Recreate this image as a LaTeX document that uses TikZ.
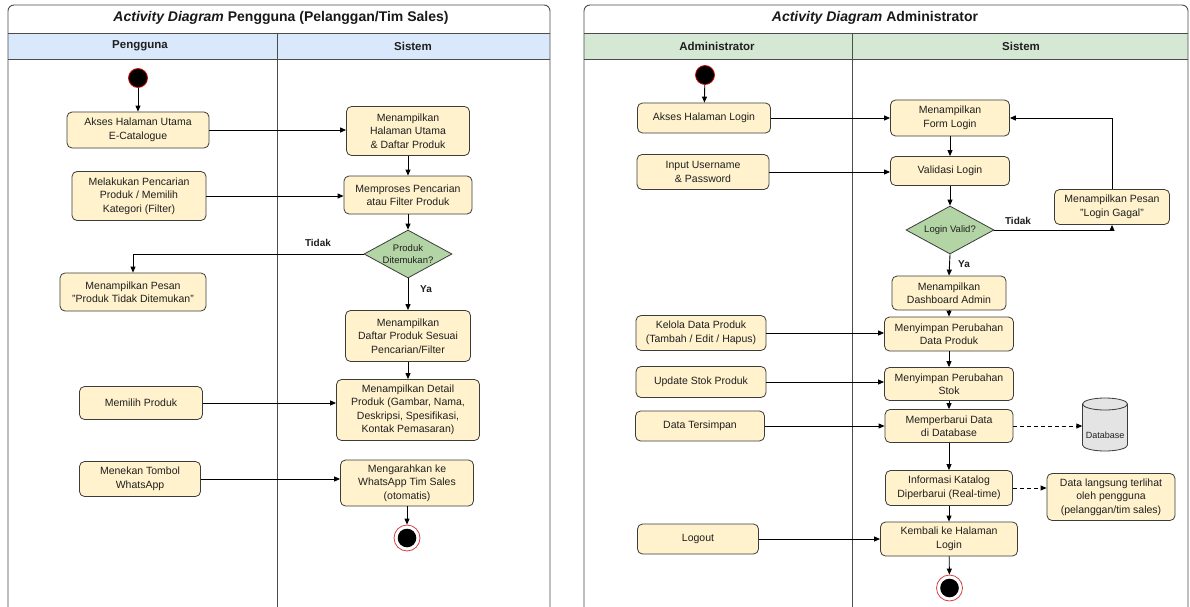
\documentclass[tikz,border=0pt]{standalone}
\usepackage{fontspec}
\setmainfont{Liberation Sans}
\usetikzlibrary{shapes.geometric,arrows.meta}
\definecolor{boxfill}{HTML}{FFF2CC}
\definecolor{boxdraw}{HTML}{3C3C3C}
\definecolor{dfill}{HTML}{B3D4A4}
\definecolor{hblue}{HTML}{DAE8FC}
\definecolor{hgreen}{HTML}{D5E8D4}
\definecolor{startred}{HTML}{CC1010}
\definecolor{ringred}{HTML}{D84040}
\definecolor{dbfill}{HTML}{E4E4E4}
\begin{document}
\begin{tikzpicture}[x=1pt,y=-1pt,
  act/.style={draw=boxdraw, fill=boxfill, rounded corners=5pt, line width=0.8pt,
    align=center, inner sep=0pt, font=\fontsize{10.5}{13.5}\selectfont, text=black!88},
  dec/.style={diamond, draw=boxdraw, fill=dfill, line width=0.8pt, inner sep=0pt},
  dtext/.style={align=center, inner sep=0pt, font=\fontsize{9.5}{12}\selectfont, text=black!88},
  flow/.style={-{Triangle[length=6pt,width=5pt]}, line width=0.9pt, black},
  dflow/.style={-{Triangle[length=6pt,width=5pt]}, line width=0.9pt, black, dash pattern=on 4pt off 3pt},
  startnode/.style={circle, fill=black, draw=startred, line width=0.8pt, minimum size=19pt, inner sep=0pt},
  endring/.style={circle, draw=ringred, line width=0.8pt, minimum size=26pt, inner sep=0pt, fill=white},
  panel/.style={draw=black!70, line width=0.9pt},
  ttl/.style={font=\fontsize{14}{16}\selectfont\bfseries, text=black!90},
  head/.style={font=\fontsize{11.5}{14}\selectfont\bfseries, text=black!88},
  lbl/.style={font=\fontsize{10}{12}\selectfont\bfseries, text=black!88, inner sep=0pt}
]
\useasboundingbox (0,0) rectangle (1190,607);
\clip (0,0) rectangle (1190,607);
\fill[white] (0,0) rectangle (1190,607);

% ---------------- Left panel frame ----------------
\fill[hblue] (8,33) rectangle (550,59);
\draw[panel] (8,33) -- (550,33);
\draw[panel] (8,59) -- (550,59);
\draw[panel] (277,33) -- (277,615);
\draw[panel, rounded corners=6pt] (8,615) -- (8,5) -- (550,5) -- (550,615);
\node[ttl] (ltitle) at (281,18) {\textit{Activity Diagram} Pengguna (Pelanggan/Tim Sales)};
\node[head] (lh1) at (140,46) {Pengguna};
\node[head] (lh2) at (413,46) {Sistem};

% ---------------- Right panel frame ----------------
\fill[hgreen] (584,33) rectangle (1188,59);
\draw[panel] (584,33) -- (1188,33);
\draw[panel] (584,59) -- (1188,59);
\draw[panel] (852,33) -- (852,615);
\draw[panel, rounded corners=6pt] (584,615) -- (584,5) -- (1188,5) -- (1188,615);
\node[ttl] (rtitle) at (875,18) {\textit{Activity Diagram} Administrator};
\node[head] (rh1) at (717,46) {Administrator};
\node[head] (rh2) at (1021,46) {Sistem};

% ---------------- Left nodes ----------------
\node[startnode] (lstart) at (138,78) {};
\node[act, minimum width=142, minimum height=36] (a1) at (138,130) {Akses Halaman Utama\\E-Catalogue};
\node[act, minimum width=123, minimum height=49] (s1) at (408,131) {Menampilkan\\Halaman Utama\\\& Daftar Produk};
\node[act, minimum width=134, minimum height=49] (a2) at (139,196) {Melakukan Pencarian\\Produk / Memilih\\Kategori (Filter)};
\node[act, minimum width=128, minimum height=38] (s2) at (408,195) {Memproses Pencarian\\atau Filter Produk};
\node[dec, minimum width=88, minimum height=48] (d1) at (408,254) {};
\node[dtext] (d1t) at (d1) {Produk\\Ditemukan?};
\node[act, minimum width=146, minimum height=38] (a3) at (133,292) {Menampilkan Pesan\\"Produk Tidak Ditemukan"};
\node[act, minimum width=125, minimum height=51] (s3) at (408,336) {Menampilkan\\Daftar Produk Sesuai\\Pencarian/Filter};
\node[act, minimum width=143, minimum height=61] (s4) at (408,410) {Menampilkan Detail\\Produk (Gambar, Nama,\\Deskripsi, Spesifikasi,\\Kontak Pemasaran)};
\node[act, minimum width=123, minimum height=33] (a4) at (141,403) {Memilih Produk};
\node[act, minimum width=121, minimum height=35] (a5) at (140,479) {Menekan Tombol\\WhatsApp};
\node[act, minimum width=133, minimum height=46] (s5) at (407,483) {Mengarahkan ke\\WhatsApp Tim Sales\\(otomatis)};
\node[endring] (lend) at (407,538) {};
\fill[black] (lend.center) circle (9.3);

% ---------------- Left edges ----------------
\draw[flow] (lstart) -- (a1);
\draw[flow] (a1.east) -- (a1.east -| s1.west);
\draw[flow] (s1) -- (s2);
\draw[flow] (a2.east) -- (a2.east -| s2.west);
\draw[flow] (s2) -- (d1);
\draw[flow] (d1.west) -| (a3.north);
\node[lbl] (tl1) at (318,243) {Tidak};
\draw[flow] (d1.south) -- (s3.north);
\node[lbl] (yl1) at (426,289) {Ya};
\draw[flow] (s3) -- (s4);
\draw[flow] (a4.east) -- (a4.east -| s4.west);
\draw[flow] (a5.east) -- (a5.east -| s5.west);
\draw[flow] (s5) -- (lend);

% ---------------- Right nodes ----------------
\node[startnode] (rstart) at (705,75) {};
\node[act, minimum width=133, minimum height=30] (b1) at (704,118) {Akses Halaman Login};
\node[act, minimum width=119, minimum height=36] (t1) at (950,118) {Menampilkan\\Form Login};
\node[act, minimum width=132, minimum height=35] (b2) at (703,172) {Input Username\\\& Password};
\node[act, minimum width=119, minimum height=29] (t2) at (950,171) {Validasi Login};
\node[dec, minimum width=88, minimum height=48] (d2) at (950,230) {};
\node[dtext] (d2t) at (d2) {Login Valid?};
\node[act, minimum width=115, minimum height=35] (t3) at (1112,207) {Menampilkan Pesan\\"Login Gagal"};
\node[act, minimum width=114, minimum height=34] (t4) at (949,293) {Menampilkan\\Dashboard Admin};
\node[act, minimum width=130, minimum height=35] (b3) at (701,333) {Kelola Data Produk\\(Tambah / Edit / Hapus)};
\node[act, minimum width=129, minimum height=34] (t5) at (949,334) {Menyimpan Perubahan\\Data Produk};
\node[act, minimum width=130, minimum height=31] (b4) at (701,382) {Update Stok Produk};
\node[act, minimum width=129, minimum height=33] (t6) at (949,384) {Menyimpan Perubahan\\Stok};
\node[act, minimum width=129, minimum height=30] (b5) at (700,426) {Data Tersimpan};
\node[act, minimum width=128, minimum height=33] (t7) at (949,426) {Memperbarui Data\\di Database};
% database cylinder
\node[inner sep=0pt, minimum width=45, minimum height=53] (db) at (1105,425) {};
\filldraw[draw=boxdraw, fill=dbfill, line width=0.8pt]
  (1082.5,404) -- (1082.5,445)
  arc[start angle=180, end angle=0, x radius=22.5, y radius=6]
  -- (1127.5,404)
  arc[start angle=0, end angle=-180, x radius=22.5, y radius=6] -- cycle;
\draw[draw=boxdraw, line width=0.8pt] (1082.5,404) arc[start angle=180, end angle=0, x radius=22.5, y radius=6];
\node[dtext, font=\fontsize{9}{11}\selectfont] (dbt) at (1105,435) {Database};
\node[act, minimum width=127, minimum height=35] (t8) at (949,488) {Informasi Katalog\\Diperbarui (Real-time)};
\node[act, minimum width=128, minimum height=47] (t9) at (1111,497) {Data langsung terlihat\\oleh pengguna\\(pelanggan/tim sales)};
\node[act, minimum width=121, minimum height=30] (b6) at (698,539) {Logout};
\node[act, minimum width=137, minimum height=34] (t10) at (949,539) {Kembali ke Halaman\\Login};
\node[endring] (rend) at (949.5,588) {};
\fill[black] (rend.center) circle (9.3);

% ---------------- Right edges ----------------
\draw[flow] (rstart) -- (b1);
\draw[flow] (b1.east) -- (b1.east -| t1.west);
\draw[flow] (t1) -- (t2);
\draw[flow] (b2.east) -- (b2.east -| t2.west);
\draw[flow] (t2) -- (d2);
\draw[flow] (d2.east) -| (t3.south);
\node[lbl] (tl2) at (1018,221) {Tidak};
\draw[flow] (t3.north) |- (t1.east);
\draw[flow] (d2.south) -- (t4.north);
\node[lbl] (yl2) at (964,264) {Ya};
\draw[flow] (t4) -- (t5);
\draw[flow] (b3.east) -- (b3.east -| t5.west);
\draw[flow] (t5) -- (t6);
\draw[flow] (b4.east) -- (b4.east -| t6.west);
\draw[flow] (t6) -- (t7);
\draw[flow] (b5.east) -- (b5.east -| t7.west);
\draw[dflow] (t7.east) -- (t7.east -| db.west);
\draw[flow] (t7) -- (t8);
\draw[dflow] (t8.east) -- (t8.east -| t9.west);
\draw[flow] (t8) -- (t10);
\draw[flow] (b6.east) -- (b6.east -| t10.west);
\draw[flow] (t10) -- (rend);
\end{tikzpicture}
\end{document}
